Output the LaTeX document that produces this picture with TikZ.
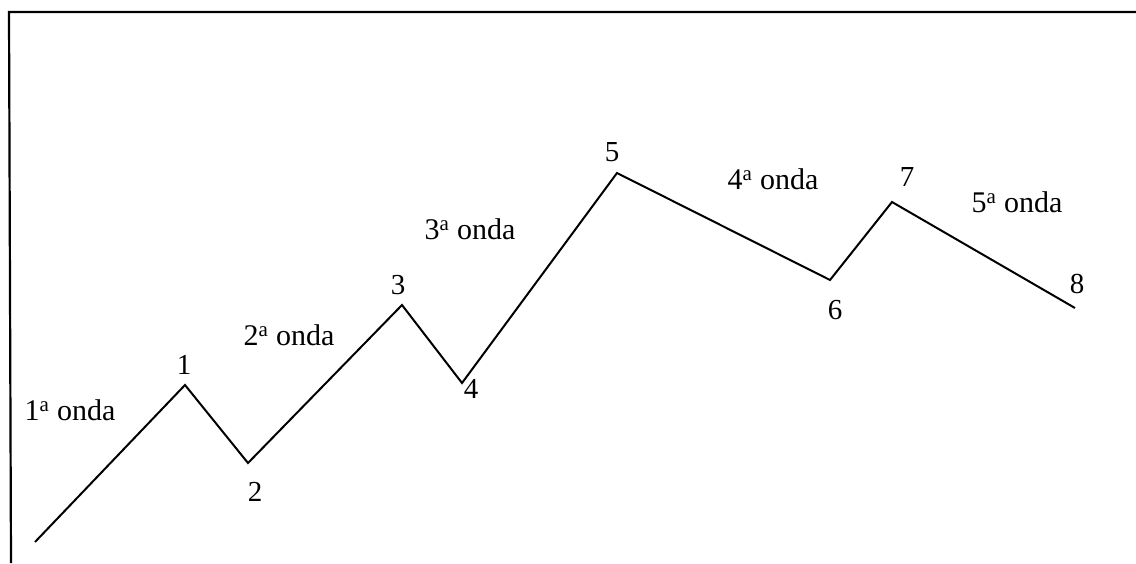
\documentclass[tikz,border=0pt]{standalone}
\usepackage{fontspec}
\setmainfont{Liberation Serif}
\begin{document}
\begin{tikzpicture}[x=1pt,y=-1pt,
  wave/.style={line width=2pt, line join=miter},
  frameline/.style={line width=2.2pt},
  lbl/.style={font=\fontsize{29}{33}\selectfont, inner sep=0pt},
  wlbl/.style={font=\fontsize{30}{34}\selectfont, inner sep=0pt}]
\useasboundingbox (0,0) rectangle (1136,563);
\fill[white] (0,0) rectangle (1136,563);
% frame (top and left)
\coordinate (ftr) at (1136,12);
\coordinate (ftl) at (9,12);
\coordinate (fbl) at (11,563);
\draw[frameline] (ftr) -- (ftl) -- (fbl);
% wave points
\coordinate (p0) at (35,542);
\coordinate (p1) at (185,385);
\coordinate (p2) at (248,463);
\coordinate (p3) at (402,305);
\coordinate (p4) at (462,383);
\coordinate (p5) at (617,173);
\coordinate (p6) at (830,280);
\coordinate (p7) at (892,202);
\coordinate (p8) at (1075,308);
\draw[wave] (p0) -- (p1) -- (p2) -- (p3) -- (p4) -- (p5) -- (p6) -- (p7) -- (p8);
% point labels
\node[lbl] (n1) at (184,365) {1};
\node[lbl] (n2) at (255,492) {2};
\node[lbl] (n3) at (398,285) {3};
\node[lbl] (n4) at (471,389) {4};
\node[lbl] (n5) at (612,152) {5};
\node[lbl] (n6) at (835,310) {6};
\node[lbl] (n7) at (907,177) {7};
\node[lbl] (n8) at (1077,284) {8};
% wave labels
\node[wlbl] (w1) at (70,410) {1\textsuperscript{a} onda};
\node[wlbl] (w2) at (289,335) {2\textsuperscript{a} onda};
\node[wlbl] (w3) at (470,229) {3\textsuperscript{a} onda};
\node[wlbl] (w4) at (773,179) {4\textsuperscript{a} onda};
\node[wlbl] (w5) at (1017,202) {5\textsuperscript{a} onda};
\end{tikzpicture}
\end{document}
